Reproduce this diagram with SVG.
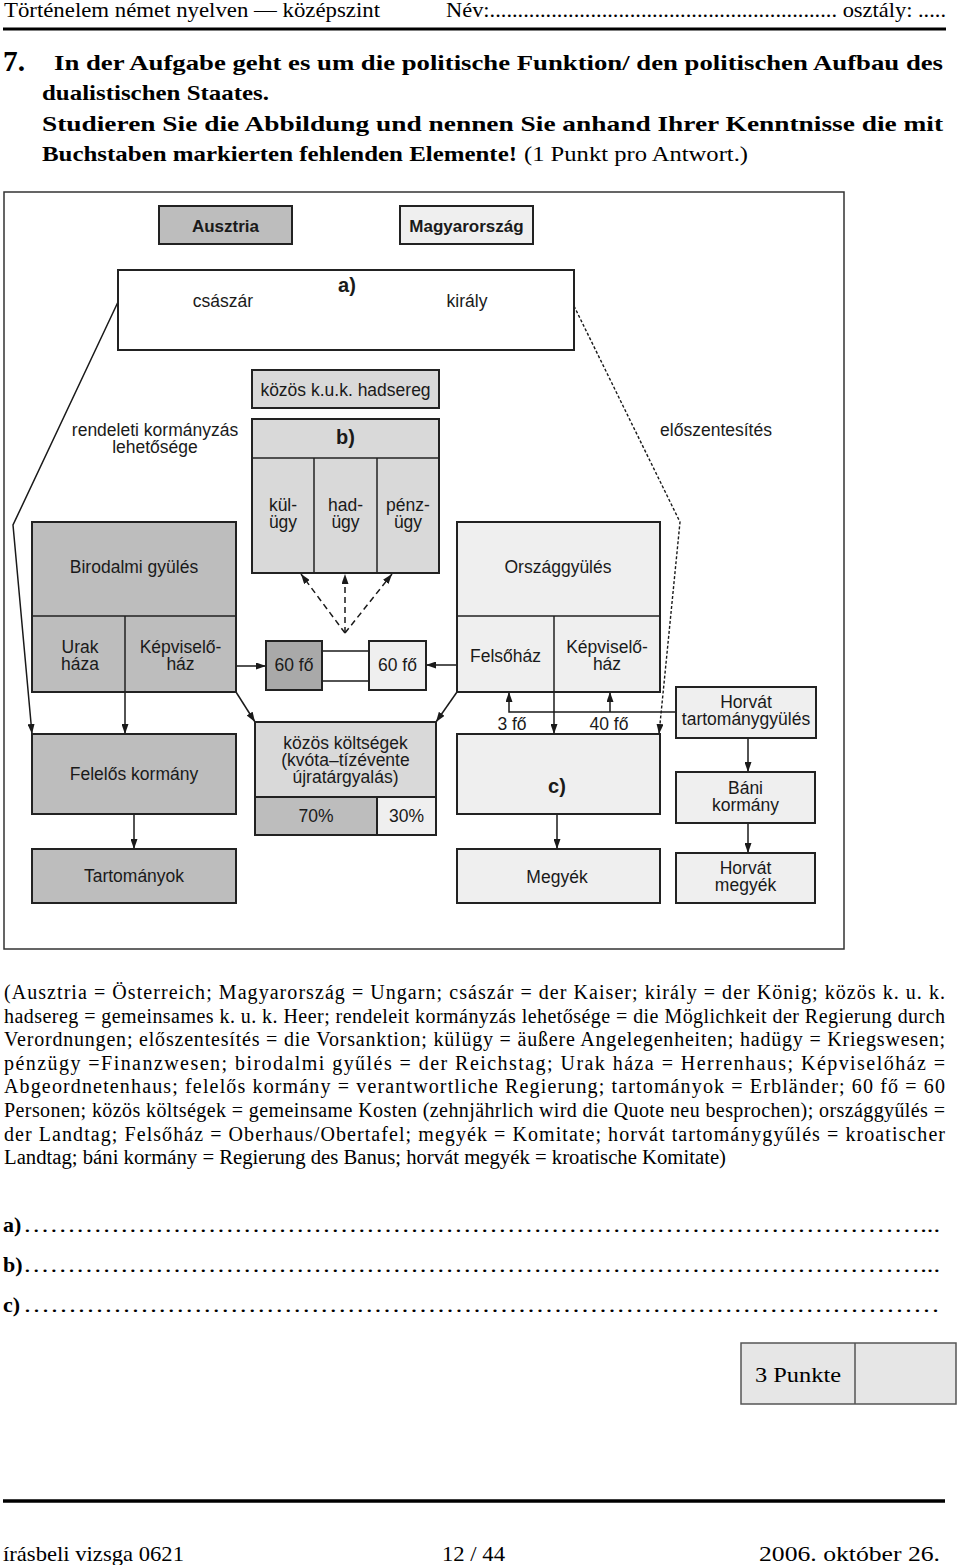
<svg xmlns="http://www.w3.org/2000/svg" width="960" height="1565" viewBox="0 0 960 1565">
<defs>
<marker id="ah" viewBox="0 0 10 7" refX="10" refY="3.5" markerWidth="10" markerHeight="7" markerUnits="userSpaceOnUse" orient="auto">
<path d="M0,0 L10,3.5 L0,7 z" fill="#1a1a1a"/>
</marker>
<style>
.serif{font-family:'Liberation Serif','Times New Roman',serif;fill:#000}
.b{font-weight:bold}
.d{font-family:'Liberation Sans',Arial,sans-serif;font-size:17.5px;fill:#1a1a1a;text-anchor:middle}
.db{font-family:'Liberation Sans',Arial,sans-serif;font-size:17px;font-weight:bold;fill:#1a1a1a;text-anchor:middle}
.lt{font-family:'Liberation Sans',Arial,sans-serif;font-size:20px;font-weight:bold;fill:#1a1a1a;text-anchor:middle}
.box{stroke:#222;stroke-width:2}
.div{stroke:#222;stroke-width:1.5;fill:none}
.dark{fill:#bdbdbd}
.mid{fill:#d9d9d9}
.light{fill:#efefef}
.c{stroke:#1a1a1a;stroke-width:1.5;fill:none}
.ca{stroke:#1a1a1a;stroke-width:1.5;fill:none;marker-end:url(#ah)}
.dl{stroke:#1a1a1a;stroke-width:1.5;fill:none;stroke-dasharray:6 4;marker-end:url(#ah)}
.ds{stroke:#1a1a1a;stroke-width:1.4;fill:none;stroke-dasharray:3 2;marker-end:url(#ah)}
.leg{font-family:'Liberation Serif','Times New Roman',serif;font-size:20px;fill:#000}
</style>
</defs>
<rect width="960" height="1565" fill="#fff"/>

<g id="header">
<text class="serif" x="4" y="17" font-size="21.5" textLength="376" lengthAdjust="spacingAndGlyphs">Történelem német nyelven — középszint</text>
<text class="serif" x="446" y="17" font-size="21.5" textLength="500" lengthAdjust="spacingAndGlyphs">Név:.............................................................. osztály: .....</text>
<line x1="3" y1="29" x2="946" y2="29" stroke="#000" stroke-width="3"/>
</g>

<g id="question">
<text class="serif b" x="3" y="71" font-size="30" textLength="22" lengthAdjust="spacingAndGlyphs">7.</text>
<text class="serif b" x="54" y="70" font-size="22" textLength="889" lengthAdjust="spacingAndGlyphs">In der Aufgabe geht es um die politische Funktion/ den politischen Aufbau des</text>
<text class="serif b" x="42" y="100" font-size="22" textLength="227" lengthAdjust="spacingAndGlyphs">dualistischen Staates.</text>
<text class="serif b" x="42" y="131" font-size="22" textLength="901" lengthAdjust="spacingAndGlyphs">Studieren Sie die Abbildung und nennen Sie anhand Ihrer Kenntnisse die mit</text>
<text class="serif b" x="42" y="161" font-size="22" textLength="475" lengthAdjust="spacingAndGlyphs">Buchstaben markierten fehlenden Elemente!</text>
<text class="serif" x="524" y="161" font-size="22" textLength="224" lengthAdjust="spacingAndGlyphs">(1 Punkt pro Antwort.)</text>
</g>

<rect id="frame" x="4" y="192" width="840" height="757" fill="none" stroke="#333" stroke-width="1.5"/>

<g id="connectors">
<polyline class="ca" points="118,302 13,525 32,734"/>
<polyline class="ds" points="574,306 680,522 659,734"/>
<line class="ca" x1="125" y1="692" x2="125" y2="734"/>
<line class="ca" x1="134" y1="814" x2="134" y2="849"/>
<line class="ca" x1="236" y1="666" x2="266" y2="666"/>
<line class="ca" x1="457" y1="665" x2="426" y2="665"/>
<line class="c" x1="322" y1="651" x2="369" y2="651"/>
<line class="c" x1="322" y1="681" x2="369" y2="681"/>
<line class="ca" x1="236" y1="692" x2="255" y2="722"/>
<line class="ca" x1="457" y1="692" x2="436" y2="722"/>
<line class="dl" x1="345" y1="633" x2="301" y2="574"/>
<line class="dl" x1="345" y1="633" x2="345" y2="574"/>
<line class="dl" x1="345" y1="633" x2="392" y2="574"/>
<line class="ca" x1="554" y1="692" x2="554" y2="734"/>
<polyline class="ca" points="676,712 509,712 509,692"/>
<line class="ca" x1="610" y1="712" x2="610" y2="692"/>
<line class="ca" x1="557" y1="814" x2="557" y2="849"/>
<line class="ca" x1="748" y1="738" x2="748" y2="772"/>
<line class="ca" x1="748" y1="823" x2="748" y2="853"/>
</g>

<g id="labels">
<text class="d" x="155" y="436">rendeleti kormányzás</text>
<text class="d" x="155" y="453">lehetősége</text>
<text class="d" x="716" y="436">előszentesítés</text>
<text class="d" x="512" y="730">3 fő</text>
<text class="d" x="609" y="730">40 fő</text>
</g>

<g id="ausztria">
<rect class="box dark" x="159" y="206" width="133" height="38"/>
<text class="db" x="225.5" y="232">Ausztria</text>
</g>
<g id="magyarorszag">
<rect class="box light" x="400" y="206" width="133" height="38"/>
<text class="db" x="466.5" y="232">Magyarország</text>
</g>
<g id="a">
<rect class="box" fill="#fff" x="118" y="270" width="456" height="80"/>
<text class="lt" x="347" y="292">a)</text>
<text class="d" x="223" y="307">császár</text>
<text class="d" x="467" y="307">király</text>
</g>
<g id="hadsereg">
<rect class="box mid" x="252" y="370" width="187" height="38"/>
<text class="d" x="345.5" y="396">közös k.u.k. hadsereg</text>
</g>
<g id="b">
<rect class="box mid" x="252" y="419" width="187" height="154"/>
<line class="div" x1="252" y1="458" x2="439" y2="458"/>
<line class="div" x1="314" y1="458" x2="314" y2="573"/>
<line class="div" x1="377" y1="458" x2="377" y2="573"/>
<text class="lt" x="345.5" y="444">b)</text>
<text class="d" x="283" y="511">kül-</text>
<text class="d" x="283" y="528">ügy</text>
<text class="d" x="345.5" y="511">had-</text>
<text class="d" x="345.5" y="528">ügy</text>
<text class="d" x="408" y="511">pénz-</text>
<text class="d" x="408" y="528">ügy</text>
</g>
<g id="birodalmi">
<rect class="box dark" x="32" y="522" width="204" height="170"/>
<line class="div" x1="32" y1="616" x2="236" y2="616"/>
<line class="div" x1="125" y1="616" x2="125" y2="692"/>
<text class="d" x="134" y="573">Birodalmi gyülés</text>
<text class="d" x="80" y="653">Urak</text>
<text class="d" x="80" y="670">háza</text>
<text class="d" x="180.5" y="653">Képviselő-</text>
<text class="d" x="180.5" y="670">ház</text>
</g>
<g id="hatvan-a">
<rect class="box" fill="#a9a9a9" x="266" y="641" width="56" height="49"/>
<text class="d" x="294" y="671">60 fő</text>
</g>
<g id="hatvan-m">
<rect class="box light" x="369" y="641" width="57" height="49"/>
<text class="d" x="397.5" y="671">60 fő</text>
</g>
<g id="orszaggyules">
<rect class="box light" x="457" y="522" width="203" height="170"/>
<line class="div" x1="457" y1="616" x2="660" y2="616"/>
<line class="div" x1="554" y1="616" x2="554" y2="692"/>
<text class="d" x="558" y="573">Országgyülés</text>
<text class="d" x="505.5" y="662">Felsőház</text>
<text class="d" x="607" y="653">Képviselő-</text>
<text class="d" x="607" y="670">ház</text>
</g>
<g id="koltsegek">
<rect class="box mid" x="255" y="722" width="181" height="113"/>
<rect class="box dark" x="255" y="797" width="122" height="38"/>
<rect class="box light" x="377" y="797" width="59" height="38"/>
<text class="d" x="345.5" y="749">közös költségek</text>
<text class="d" x="345.5" y="766">(kvóta–tízévente</text>
<text class="d" x="345.5" y="783">újratárgyalás)</text>
<text class="d" x="316" y="822">70%</text>
<text class="d" x="406.5" y="822">30%</text>
</g>
<g id="felelos">
<rect class="box dark" x="32" y="734" width="204" height="80"/>
<text class="d" x="134" y="780">Felelős kormány</text>
</g>
<g id="tartomanyok">
<rect class="box dark" x="32" y="849" width="204" height="54"/>
<text class="d" x="134" y="882">Tartományok</text>
</g>
<g id="c">
<rect class="box light" x="457" y="734" width="203" height="80"/>
<text class="lt" x="557" y="793">c)</text>
</g>
<g id="megyek">
<rect class="box light" x="457" y="849" width="203" height="54"/>
<text class="d" x="557" y="883">Megyék</text>
</g>
<g id="horvat-tgy">
<rect class="box light" x="676" y="687" width="140" height="51"/>
<text class="d" x="746" y="708">Horvát</text>
<text class="d" x="746" y="725">tartománygyülés</text>
</g>
<g id="bani">
<rect class="box light" x="676" y="772" width="139" height="51"/>
<text class="d" x="745.5" y="794">Báni</text>
<text class="d" x="745.5" y="811">kormány</text>
</g>
<g id="horvat-megyek">
<rect class="box light" x="676" y="853" width="139" height="50"/>
<text class="d" x="745.5" y="874">Horvát</text>
<text class="d" x="745.5" y="891">megyék</text>
</g>

<g id="legend">
<text class="leg" x="4" y="999" textLength="941" lengthAdjust="spacing">(Ausztria = Österreich; Magyarország = Ungarn; császár = der Kaiser; király = der König; közös k. u. k.</text>
<text class="leg" x="4" y="1022.5" textLength="941" lengthAdjust="spacing">hadsereg = gemeinsames k. u. k. Heer; rendeleit kormányzás lehetősége = die Möglichkeit der Regierung durch</text>
<text class="leg" x="4" y="1046" textLength="941" lengthAdjust="spacing">Verordnungen; előszentesítés = die Vorsanktion; külügy = äußere Angelegenheiten; hadügy = Kriegswesen;</text>
<text class="leg" x="4" y="1070" textLength="941" lengthAdjust="spacing">pénzügy =Finanzwesen; birodalmi gyűlés = der Reichstag; Urak háza = Herrenhaus; Képviselőház =</text>
<text class="leg" x="4" y="1093" textLength="941" lengthAdjust="spacing">Abgeordnetenhaus; felelős kormány = verantwortliche Regierung; tartományok = Erbländer; 60 fő = 60</text>
<text class="leg" x="4" y="1117" textLength="941" lengthAdjust="spacing">Personen; közös költségek = gemeinsame Kosten (zehnjährlich wird die Quote neu besprochen); országgyűlés =</text>
<text class="leg" x="4" y="1141" textLength="941" lengthAdjust="spacing">der Landtag; Felsőház = Oberhaus/Obertafel; megyék = Komitate; horvát tartománygyűlés = kroatischer</text>
<text class="leg" x="4" y="1164" textLength="722" lengthAdjust="spacingAndGlyphs">Landtag; báni kormány = Regierung des Banus; horvát megyék = kroatische Komitate)</text>
</g>

<g id="answers">
<text class="serif b" x="3" y="1232" font-size="22">a)</text>
<text class="serif" x="23" y="1232" font-size="20" textLength="917" lengthAdjust="spacingAndGlyphs">…………………………………………………………………………………………...</text>
<text class="serif b" x="3" y="1272" font-size="22">b)</text>
<text class="serif" x="23" y="1272" font-size="20" textLength="917" lengthAdjust="spacingAndGlyphs">…………………………………………………………………………………………...</text>
<text class="serif b" x="3" y="1312" font-size="22">c)</text>
<text class="serif" x="23" y="1312" font-size="20" textLength="917" lengthAdjust="spacingAndGlyphs">…………………………………………………………………………………………</text>
</g>

<g id="punkte">
<rect x="741" y="1343" width="215" height="61" fill="#e6e6e6" stroke="#555" stroke-width="1.5"/>
<line x1="855" y1="1343" x2="855" y2="1404" stroke="#555" stroke-width="1.5"/>
<text class="serif" x="755" y="1382" font-size="22" textLength="86" lengthAdjust="spacingAndGlyphs">3 Punkte</text>
</g>

<g id="footer">
<line x1="3" y1="1501" x2="945" y2="1501" stroke="#000" stroke-width="3.5"/>
<text class="serif" x="3" y="1561" font-size="21" textLength="181" lengthAdjust="spacingAndGlyphs">írásbeli vizsga 0621</text>
<text class="serif" x="442" y="1561" font-size="21" textLength="63" lengthAdjust="spacingAndGlyphs">12 / 44</text>
<text class="serif" x="759" y="1561" font-size="21" textLength="181" lengthAdjust="spacingAndGlyphs">2006. október 26.</text>
</g>
</svg>
